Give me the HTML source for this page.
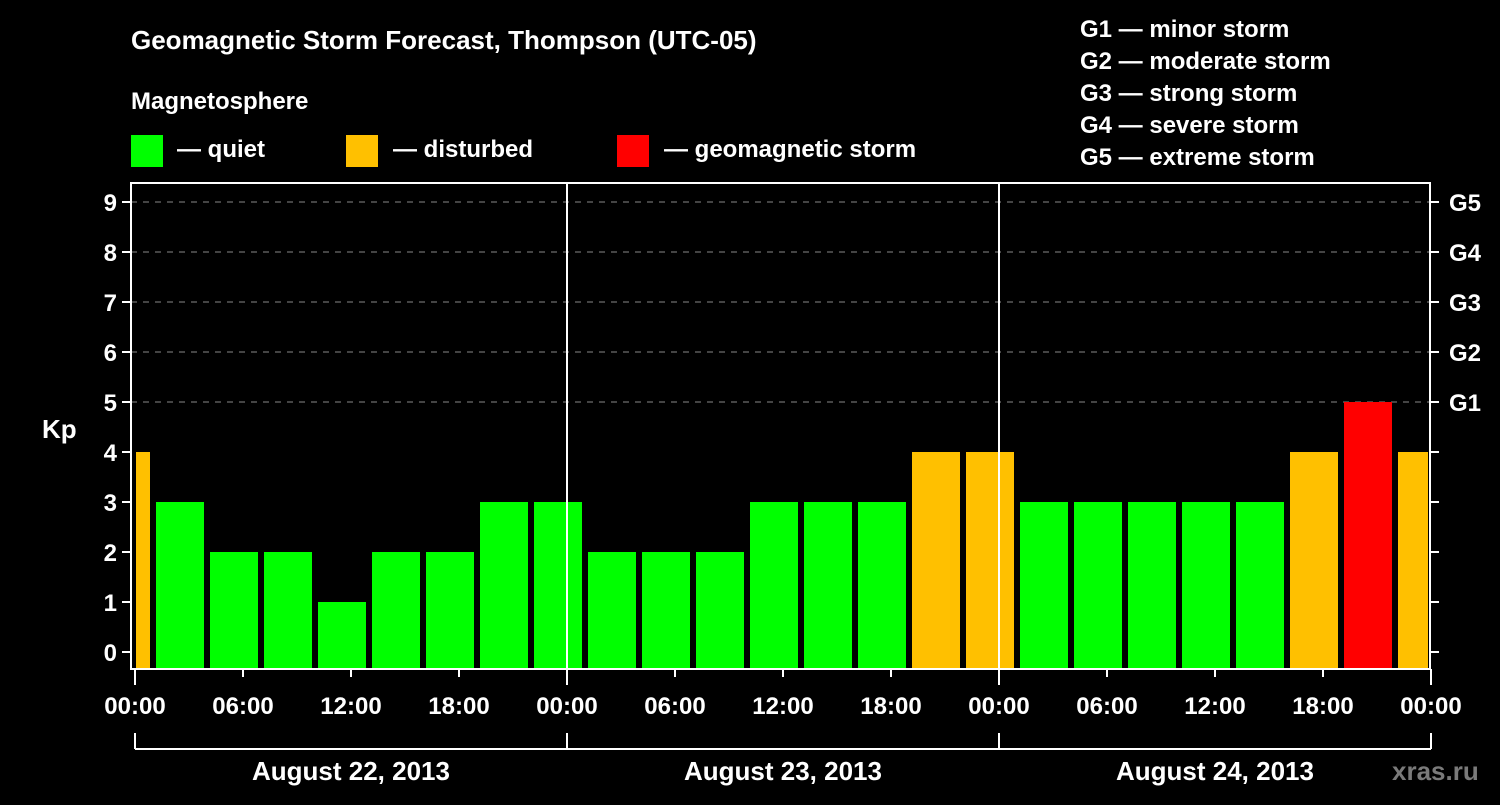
<!DOCTYPE html>
<html><head><meta charset="utf-8"><style>
body{margin:0;background:#000;}
svg text{font-family:"Liberation Sans",Arial,sans-serif;font-weight:bold;fill:#fff;}
</style></head><body>
<svg id="chart" width="1500" height="800" viewBox="0 0 1500 800" xmlns="http://www.w3.org/2000/svg">
<rect width="1500" height="800" fill="#000"/>
<text x="131" y="49" font-size="26">Geomagnetic Storm Forecast, Thompson (UTC-05)</text>
<text x="131" y="109" font-size="24">Magnetosphere</text>
<g><rect x="131" y="135" width="32" height="32" fill="#00ff00"/><text x="177" y="157" font-size="24">— quiet</text></g>
<g><rect x="346" y="135" width="32" height="32" fill="#ffc000"/><text x="393" y="157" font-size="24">— disturbed</text></g>
<g><rect x="617" y="135" width="32" height="32" fill="#ff0000"/><text x="664" y="157" font-size="24">— geomagnetic storm</text></g>
<g font-size="24">
<text x="1080" y="37">G1 — minor storm</text>
<text x="1080" y="69">G2 — moderate storm</text>
<text x="1080" y="101">G3 — strong storm</text>
<text x="1080" y="133">G4 — severe storm</text>
<text x="1080" y="165">G5 — extreme storm</text>
</g>
<text x="42" y="438" font-size="26">Kp</text>
<text x="1392" y="780" font-size="26" fill="#888" style="fill:#7a7a7a">xras.ru</text>
<g id="grid"></g>
<g id="bars"></g>
<g id="axes"></g>
</svg>
<script>
const kpValues=[4,3,2,2,1,2,2,3,3,2,2,2,3,3,3,4,4,3,3,3,3,3,4,5,4];
const barStartHours=[-2,1,4,7,10,13,16,19,22,25,28,31,34,37,40,43,46,49,52,55,58,61,64,67,70];
const yTicks=[0,1,2,3,4,5,6,7,8,9];
const gLabels=["G1","G2","G3","G4","G5"];
const timeLabels=["00:00","06:00","12:00","18:00","00:00","06:00","12:00","18:00","00:00","06:00","12:00","18:00","00:00"];
const dayLabels=["August 22, 2013","August 23, 2013","August 24, 2013"];
const NS="http://www.w3.org/2000/svg";
const L=131,R=1430,T=183,B=669,X0=135,PXH=18;
const x=h=>X0+h*PXH;
const y=v=>652-50*v;
function mk(tag,attrs,parent,txt){const e=document.createElementNS(NS,tag);for(const k in attrs)e.setAttribute(k,attrs[k]);if(txt!==undefined)e.textContent=txt;parent.appendChild(e);return e;}
const grid=document.getElementById('grid'),bars=document.getElementById('bars'),axes=document.getElementById('axes');
yTicks.forEach(v=>{if(v>=5){const l=mk('line',{x1:L,x2:R,y1:y(v),y2:y(v),stroke:'#888','stroke-dasharray':'6,6','stroke-width':1},grid);

}});
kpValues.forEach((v,i)=>{let x1=x(barStartHours[i])+3,x2=x(barStartHours[i]+3)-3;x1=Math.max(x1,X0+1);x2=Math.min(x2,x(72)-3);
const c=v>=5?'#ff0000':(v>=4?'#ffc000':'#00ff00');
const r=mk('rect',{x:x1,y:y(v),width:x2-x1,height:B-y(v),fill:c},bars);

});
// frame
mk('rect',{x:L,y:T,width:R-L,height:B-T,fill:'none',stroke:'#fff','stroke-width':2},axes);
[24,48].forEach(h=>{mk('line',{x1:x(h),x2:x(h),y1:T,y2:B,stroke:'#fff','stroke-width':2},axes);});
yTicks.forEach(v=>{mk('line',{x1:L-9,x2:L,y1:y(v),y2:y(v),stroke:'#fff','stroke-width':2},axes);mk('line',{x1:R,x2:R+9,y1:y(v),y2:y(v),stroke:'#fff','stroke-width':2},axes);
const t=mk('text',{x:L-14,y:y(v)+9,'font-size':24,'text-anchor':'end'},axes,String(v));

});
gLabels.forEach((g,i)=>{const t=mk('text',{x:1449,y:y(5+i)+9,'font-size':24},axes,g);

});
timeLabels.forEach((s,i)=>{const h=i*6;const long=(i%4===0);
mk('line',{x1:x(h),x2:x(h),y1:B,y2:B+(long?16:8),stroke:'#fff','stroke-width':2},axes);
const t=mk('text',{x:x(h),y:714,'font-size':24,'text-anchor':'middle'},axes,s);

});
mk('line',{x1:x(0),x2:x(72),y1:749,y2:749,stroke:'#fff','stroke-width':2},axes);
[0,24,48,72].forEach(h=>mk('line',{x1:x(h),x2:x(h),y1:733,y2:749,stroke:'#fff','stroke-width':2},axes));
dayLabels.forEach((d,i)=>{const t=mk('text',{x:x(i*24+12),y:780,'font-size':26,'text-anchor':'middle'},axes,d);

});
</script>
</body></html>
